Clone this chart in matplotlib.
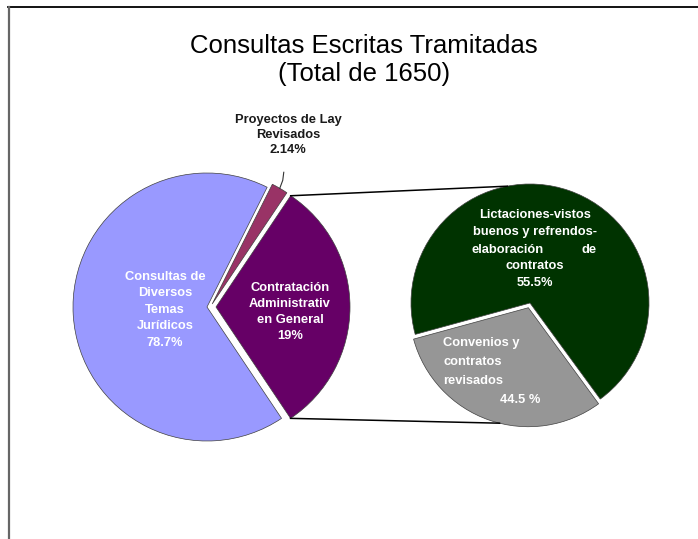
import numpy as np
import matplotlib
matplotlib.use("Agg")
import matplotlib.pyplot as plt

# Canvas size in pixels (1 data unit = 1 pixel)
W, H = 698, 539

plt.rcParams['font.family'] = ['Liberation Sans', 'DejaVu Sans']

# Title
title_lines = ["Consultas Escritas Tramitadas", "(Total de 1650)"]

# Main pie: wedge shares as drawn in the picture, with the printed labels
main_names = ["Contratación", "Proyectos de Ley", "Consultas de Diversos Temas"]
main_shares = [31.2, 2.0, 66.8]
main_colors = ['#660066', '#993366', '#9999FF']

# Secondary pie (breakdown of Contratación Administrativa)
sub_names = ["Convenios y contratos", "Licitaciones"]
sub_shares = [30.8, 69.2]
sub_colors = ['#969696', '#003300']

# Label texts as printed on the chart
lbl_consultas = ["Consultas de", "Diversos", "Temas", "Jurídicos", "78.7%"]
lbl_contrat = ["Contratación", "Administrativ", "en General", "19%"]
lbl_proyectos = ["Proyectos de Lay", "Revisados", "2.14%"]
lbl_licit = ["Lictaciones-vistos", "buenos y refrendos-", None, "contratos", "55.5%"]
lbl_licit_row3 = ("elaboración", "de")
lbl_conv = ["Convenios y", "contratos", "revisados"]
lbl_conv_pct = "44.5 %"

fig = plt.figure(figsize=(W / 100, H / 100), dpi=100)
ax = fig.add_axes([0, 0, 1, 1])


def Y(y):
    return H - y


edge = dict(edgecolor='#404040', linewidth=0.5)

# main pie
c1 = np.array([207.0, Y(307)])
r1 = 134
start1 = -56.2
w1, _ = ax.pie(main_shares, colors=main_colors, startangle=start1, center=tuple(c1),
               radius=r1, wedgeprops=edge, frame=True)
# explode the Contratación and Proyectos wedges
c_contrat = c1 + np.array([9.0, 0.0])
w1[0].set_center(tuple(c_contrat))
a = np.radians(30)
c_proy = c1 + 6 * np.array([np.cos(a), np.sin(a)])
w1[1].set_center(tuple(c_proy))

# secondary pie
c2 = np.array([530.0, Y(303)])
r2 = 119
start2 = 195.3
w2, _ = ax.pie(sub_shares, colors=sub_colors, startangle=start2, center=tuple(c2),
               radius=r2, wedgeprops=edge, frame=True)
gmid = np.radians(start2 + sub_shares[0] * 3.6 / 2)
c_gray = c2 + 5 * np.array([np.cos(gmid), np.sin(gmid)])
w2[0].set_center(tuple(c_gray))

# connector lines between the pies
t_top = np.radians(w1[0].theta2)
t_bot = np.radians(w1[0].theta1)
p_top = c_contrat + r1 * np.array([np.cos(t_top), np.sin(t_top)])
p_bot = c_contrat + r1 * np.array([np.cos(t_bot), np.sin(t_bot)])
q_top = c2 + r2 * np.array([np.cos(np.radians(101)), np.sin(np.radians(101))])
q_bot = c_gray + r2 * np.array([np.cos(np.radians(256)), np.sin(np.radians(256))])
ax.plot([p_top[0], q_top[0]], [p_top[1], q_top[1]], color='black', lw=1.1)
ax.plot([p_bot[0], q_bot[0]], [p_bot[1], q_bot[1]], color='black', lw=1.1)

# leader line for Proyectos label
pm = np.radians((w1[1].theta1 + w1[1].theta2) / 2)
p_lead = c_proy + r1 * np.array([np.cos(pm), np.sin(pm)])
ax.plot([p_lead[0], p_lead[0] + 3, p_lead[0] + 4],
        [p_lead[1], p_lead[1] + 8, p_lead[1] + 16], color='#333333', lw=0.8)

fs = 9.3


def put_lines(x, y_top, lines, step, **kw):
    for i, s in enumerate(lines):
        if s is None:
            continue
        ax.text(x, Y(y_top + i * step), s, va='center', fontsize=fs,
                fontweight='bold', **kw)


put_lines(165, 276.7, lbl_consultas, 16.5, ha='center', color='white')
put_lines(290, 287.7, lbl_contrat, 16.0, ha='center', color='white')
put_lines(288, 120, lbl_proyectos, 15.0, ha='center', color='#1a1a1a')
put_lines(535, 215, lbl_licit, 17.0, ha='center', color='white')
ax.text(472, Y(250), lbl_licit_row3[0], ha='left', va='center', fontsize=fs,
        fontweight='bold', color='white')
ax.text(597, Y(250), lbl_licit_row3[1], ha='right', va='center', fontsize=fs,
        fontweight='bold', color='white')
put_lines(443, 343.3, lbl_conv, 18.7, ha='left', color='white')
ax.text(500, Y(400), lbl_conv_pct, ha='left', va='center', fontsize=fs,
        fontweight='bold', color='white')

# title
ax.text(364, Y(53), title_lines[0], ha='center', va='baseline', fontsize=18.5)
ax.text(364, Y(81), title_lines[1], ha='center', va='baseline', fontsize=18.5)

# chart frame (top and left edges visible)
ax.plot([8, W], [Y(7), Y(7)], color='black', lw=1.3)
ax.plot([8.5, 8.5], [Y(7), 0], color='#666666', lw=1.6)

ax.set_xlim(0, W)
ax.set_ylim(0, H)
ax.set_aspect('equal')
ax.axis('off')

fig.savefig("out.png", dpi=100)
